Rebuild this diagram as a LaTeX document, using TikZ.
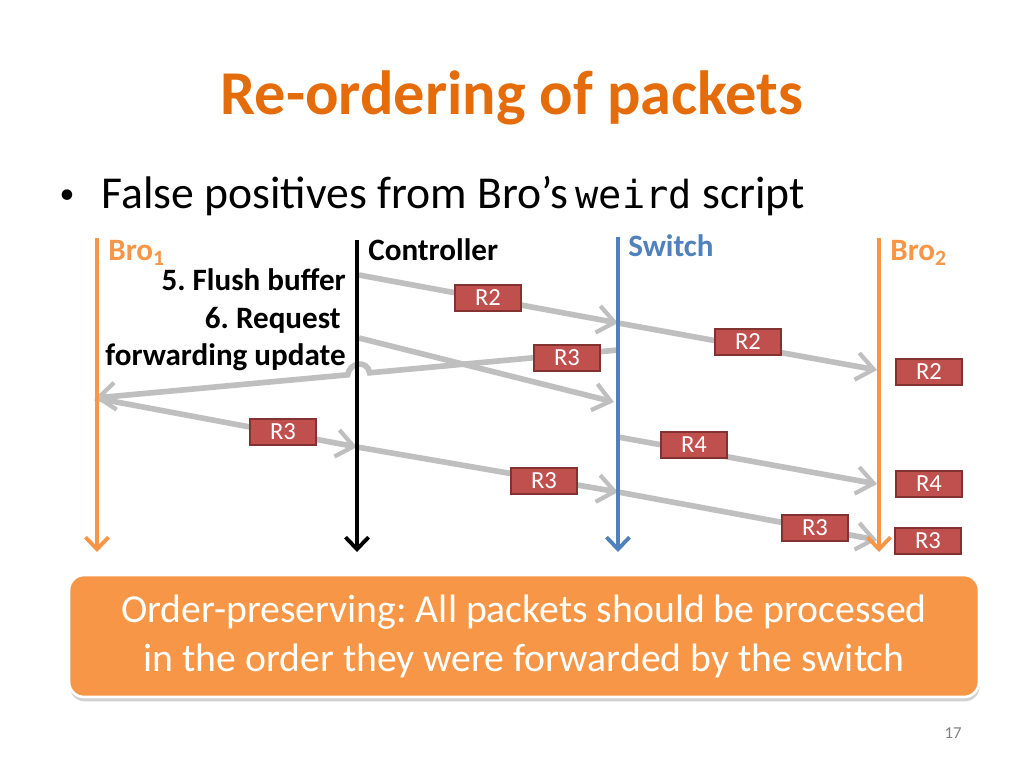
\documentclass[tikz,border=0pt]{standalone}
\usepackage{fontspec}
\setmainfont{Carlito}
\setmonofont{DejaVu Sans Mono}
\usetikzlibrary{arrows.meta,positioning,calc,shadows}
\definecolor{broor}{RGB}{247,150,70}
\definecolor{swkek}{RGB}{79,129,189}
\definecolor{pktpiros}{RGB}{192,80,77}
\definecolor{pktel}{RGB}{130,50,48}
\definecolor{cimor}{RGB}{228,108,10}
\definecolor{nyilszurke}{RGB}{191,191,191}
\tikzset{
  pkt/.style={draw=pktel,fill=pktpiros,text=white,line width=0.9pt,
    minimum width=1.32cm,minimum height=0.52cm,inner sep=0pt,
    font=\fontsize{14}{16}\selectfont},
  uzenet/.style={draw=nyilszurke,line width=3.2pt,
    -{Straight Barb[length=3.4mm,width=5.4mm,line width=2.4pt]}},
  elet/.style={line width=2.2pt,-{Straight Barb[length=2.4mm,width=4.6mm,line width=2.2pt]}},
  cimke/.style={font=\fontsize{17.7}{20}\bfseries\selectfont,inner sep=0pt},
}
\begin{document}
\frenchspacing
\begin{tikzpicture}[x=0.02cm,y=-0.02cm]
  \useasboundingbox[fill=white] (0,0) rectangle (1024,768);
  % title and bullet
  \node[text=cimor,font=\fontsize{35.5}{40}\bfseries\selectfont] (cim) at (512,98) {Re-ordering of packets};
  \node[font=\fontsize{17}{20}\selectfont,inner sep=0pt] (pont) at (67,197) {•};
  \node[anchor=west,font=\fontsize{26}{30}\selectfont,inner sep=0pt] (felsor) at (101,196)
    {False positives from Bro’s\,{\fontsize{22}{26}\ttfamily weird} script};
  % lifelines
  \coordinate (b1top) at (97,238);  \coordinate (b1bot) at (97,552);
  \coordinate (ctop) at (357,240);  \coordinate (cbot) at (357,552);
  \coordinate (stop) at (618,237);  \coordinate (sbot) at (618,552);
  \coordinate (b2top) at (879,238); \coordinate (b2bot) at (879,552);
  % message points
  \coordinate (c1) at (359,275);  \coordinate (s1) at (618,323);
  \coordinate (b2a) at (877,370);
  \coordinate (c2) at (359,338);  \coordinate (s2) at (614,402);
  \coordinate (s3) at (618,350);  \coordinate (b1a) at (95,398);
  \coordinate (c3) at (357,447);  \coordinate (s4) at (618,492);
  \coordinate (s5) at (618,437);  \coordinate (b2b) at (877,484);
  \coordinate (b2c) at (877,540);
  % messages
  \draw[uzenet] (c1) -- (s1);
  \draw[uzenet] (s1) -- (b2a);
  \draw[uzenet] (c2) -- (s2);
  \draw[uzenet] (s3) -- ($(s3)!0.475!(b1a)$)
    .. controls +(-2,-13) and +(2,-13) .. ($(s3)!0.517!(b1a)$) -- (b1a);
  \draw[uzenet] (b1a) -- (c3);
  \draw[uzenet] (c3) -- (s4);
  \draw[uzenet] (s5) -- (b2b);
  \draw[uzenet] (s4) -- (b2c);
  % lifelines on top
  \draw[elet,broor] (b1top) -- (b1bot);
  \draw[elet,black] (ctop) -- (cbot);
  \draw[elet,swkek] (stop) -- (sbot);
  \draw[elet,broor] (b2top) -- (b2bot);
  \node[cimke,anchor=north west,text=broor] (bro1) at (108,240) {Bro\textsubscript{1}};
  \node[cimke,anchor=north west] (ctrl) at (368,238) {Controller};
  \node[cimke,anchor=north west,text=swkek] (sw) at (628,234) {Switch};
  \node[cimke,anchor=north west,text=broor] (bro2) at (890,240) {Bro\textsubscript{2}};
  \node[cimke,anchor=east] (flush) at (346,280) {5. Flush buffer};
  \node[cimke,anchor=east] (req) at (341,320) {6. Request};
  \node[cimke,anchor=east] (fwd) at (346,357) {forwarding update};
  % packets
  \foreach \nev/\x/\y/\t in {p1/488/298/R2, p2/748/342/R2, p3/929/372/R2,
      p4/567/358/R3, p5/283/432/R3, p6/544/481/R3, p7/694/445/R4,
      p8/929/484/R4, p9/815/528/R3, p10/928/541/R3} {
    \node[pkt] (\nev) at (\x,\y) {\t};
  }
  % bottom box
  \node[draw=white,line width=1.5pt,fill=broor,rounded corners=0.3cm,
    minimum width=18.2cm,minimum height=2.44cm,
    drop shadow={shadow xshift=0.4pt,shadow yshift=-2.5pt,opacity=0.35},
    text=white,align=center,font=\fontsize{22.6}{27.8}\selectfont] (rend) at (524,636)
    {Order-preserving: All packets should be processed\\in the order they were forwarded by the switch};
  \node[text=gray,font=\fontsize{9.5}{11}\selectfont] (oldal) at (953,733) {17};
\end{tikzpicture}
\end{document}
